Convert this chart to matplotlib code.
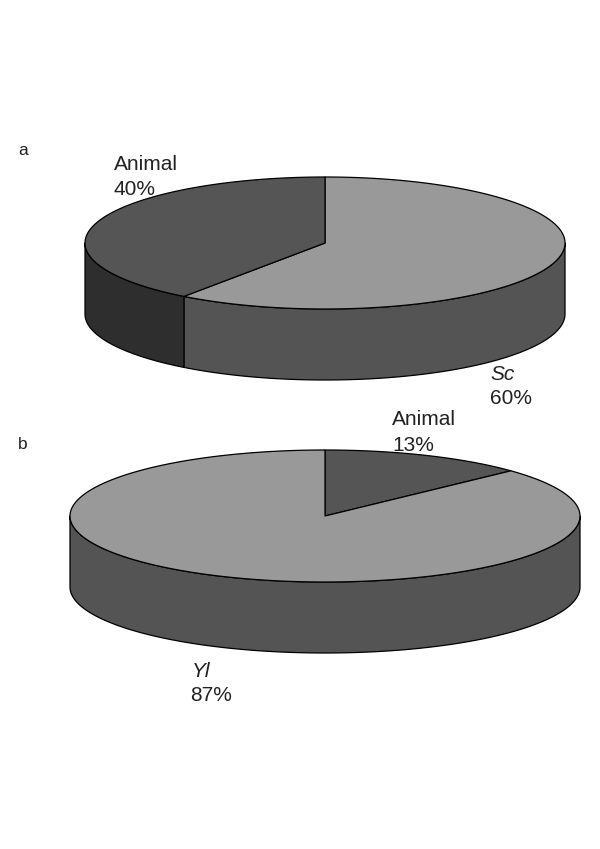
import numpy as np
import matplotlib
matplotlib.use("Agg")
import matplotlib.pyplot as plt
from matplotlib.patches import Polygon

plt.rcParams['font.family'] = ['Liberation Sans', 'DejaVu Sans']

# Data
categories_a = ["Sc", "Animal"]
values_a = [60, 40]
categories_b = ["Animal", "Yl"]
values_b = [13, 87]
TOP = {"Sc": "#999999", "Yl": "#999999", "Animal": "#555555"}
SIDE = {"Sc": "#545454", "Yl": "#545454", "Animal": "#2e2e2e"}

fig = plt.figure(figsize=(6.0, 8.49), dpi=100, facecolor="white")
ax = fig.add_axes([0, 0, 1, 1])
ax.set_xlim(0, 600)
ax.set_ylim(849, 0)
ax.axis("off")


def ell(cx, cy, rx, ry, t):
    """t is clockwise from 12 o'clock, in radians."""
    return np.column_stack([cx + rx * np.sin(t), cy - ry * np.cos(t)])


def pie3d(cats, vals, cx, cy, rx, ry, depth):
    edges = np.cumsum([0] + list(vals)) / sum(vals) * 2 * np.pi
    # side walls: only the visible front half (pi/2 .. 3pi/2)
    for c, a, b in zip(cats, edges[:-1], edges[1:]):
        lo, hi = max(a, np.pi / 2), min(b, 3 * np.pi / 2)
        if lo < hi:
            t = np.linspace(lo, hi, 200)
            up = ell(cx, cy, rx, ry, t)
            dn = up + [0, depth]
            ax.add_patch(Polygon(np.vstack([up, dn[::-1]]), closed=True,
                                 fc=SIDE[c], ec="black", lw=0.9, joinstyle="round", zorder=2))
    # top faces
    for c, a, b in zip(cats, edges[:-1], edges[1:]):
        t = np.linspace(a, b, 400)
        pts = np.vstack([[cx, cy], ell(cx, cy, rx, ry, t)])
        ax.add_patch(Polygon(pts, closed=True, fc=TOP[c], ec="black", lw=0.9,
                             joinstyle="round", zorder=3))


pie3d(categories_a, values_a, 325, 243, 240, 66, 71)
pie3d(categories_b, values_b, 325, 516, 255, 66, 71)

tc = "#222222"
fs = 15
kw = dict(fontsize=fs, color=tc, va="baseline", ha="left", zorder=5)
ax.text(18, 155, "a", **{**kw, "fontsize": 12.5})
ax.text(18, 449, "b", **{**kw, "fontsize": 12.5})
ax.text(114, 170, categories_a[1], **kw)
ax.text(114, 195, f"{values_a[1]}%", **kw)
ax.text(490, 380, categories_a[0], style="italic", **kw)
ax.text(490, 404, f"{values_a[0]}%", **kw)
ax.text(392, 425, categories_b[0], **kw)
ax.text(392, 451, f"{values_b[0]}%", **kw)
ax.text(192, 677, categories_b[1], style="italic", **kw)
ax.text(190, 701, f"{values_b[1]}%", **kw)

fig.savefig("out.png", dpi=100, facecolor="white")
